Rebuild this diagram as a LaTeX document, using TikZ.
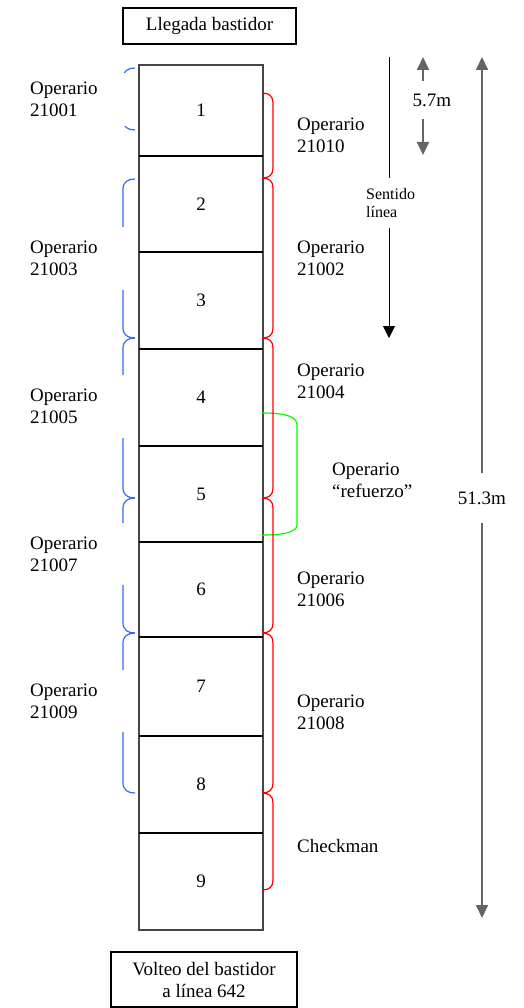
\documentclass[tikz,border=0pt]{standalone}
\usepackage{fontspec}
\setmainfont{Liberation Serif}
\usetikzlibrary{arrows.meta,positioning}
\definecolor{opblue}{RGB}{51,102,255}
\definecolor{opred}{RGB}{255,0,0}
\definecolor{opgreen}{RGB}{0,255,0}
\definecolor{framegray}{RGB}{70,70,70}
\definecolor{dimgray}{RGB}{100,100,100}
% bracket on the left / right side of the line, from y #1 down to y #2
\newcommand{\lbrk}[2]{\draw[lbr] (135,#1) .. controls (128,#1) and (123,#1+3) .. (123,#1+10) -- (123,#2-10) .. controls (123,#2-3) and (128,#2) .. (135,#2);}
\newcommand{\rbrk}[2]{\draw[rbr] (262,#1) .. controls (269,#1) and (273,#1+3) .. (273,#1+10) -- (273,#2-10) .. controls (273,#2-3) and (269,#2) .. (262,#2);}

\begin{document}
\begin{tikzpicture}[x=1pt,y=-1pt,
  txt/.style={font=\fontsize{19}{22}\selectfont, inner sep=0pt, align=left},
  lab/.style={txt, fill=white, text width=98pt, anchor=west},
  num/.style={txt, align=center, minimum width=124pt},
  box/.style={draw, line width=1.2pt, txt, align=center},
  lbr/.style={draw=opblue, line width=1.2pt},
  rbr/.style={draw=opred, line width=1.2pt},
  sep/.style={line width=2.4pt},
  dim/.style={draw=dimgray, line width=1.8pt, -{Triangle[width=12pt,length=13pt]}}]
\useasboundingbox (0,0) rectangle (524,1008);

\node[box, minimum width=173pt, minimum height=36pt] (llegada) at (209.5,26) {Llegada bastidor};

% stations
\foreach \n/\yt/\yb in {1/65/156, 2/156/252, 3/252/349, 4/349/446, 5/446/542, 6/542/637, 7/637/736, 8/736/833, 9/833/930}
  \node[num, minimum height={\yb pt-\yt pt}] (c\n) at (201,{(\yt+\yb)/2}) {\raisebox{-2pt}{\n}};
\draw[framegray, line width=1.8pt] (c1.north west) rectangle (c9.south east);
\foreach \n in {1,...,8}
  \draw[sep] (c\n.south west) -- (c\n.south east);

% refuerzo
\draw[opgreen, line width=1.2pt] (262,413) .. controls (284,413) and (297,416) .. (297,425) -- (297,525) .. controls (297,532) and (284,535) .. (262,535);

\lbrk{68}{130}
\lbrk{179}{338}
\lbrk{338}{498}
\lbrk{498}{633}
\lbrk{633}{793}
\rbrk{93}{178}
\rbrk{178}{338}
\rbrk{338}{498}
\rbrk{498}{633}
\rbrk{633}{793}
\rbrk{793}{890}

\node[lab, minimum height=53pt] (o21001) at (30,99.5) {Operario\\21001};
\node[lab, minimum height=63pt] (o21003) at (30,258.5) {Operario\\21003};
\node[lab, minimum height=63pt] (o21005) at (30,406.5) {Operario\\21005};
\node[lab, minimum height=62pt] (o21007) at (30,554) {Operario\\21007};
\node[lab, minimum height=62pt] (o21009) at (30,701) {Operario\\21009};

\node[txt, anchor=west] (o21010) at (297,135.5) {Operario\\21010};
\node[txt, anchor=west] (o21002) at (297,258) {Operario\\21002};
\node[txt, anchor=west] (o21004) at (297,381) {Operario\\21004};
\node[txt, anchor=west] (oref) at (332,480) {Operario\\“refuerzo”};
\node[txt, anchor=west] (o21006) at (297,589) {Operario\\21006};
\node[txt, anchor=west] (o21008) at (297,712) {Operario\\21008};
\node[txt, anchor=west] (check) at (297,846) {Checkman};

% sentido de la linea y cotas
\coordinate (s0) at (389,57);
\coordinate (s1) at (389,338);
\node[txt, font=\fontsize{16}{18}\selectfont, anchor=west, minimum height=50pt] (sent) at (366,203) {Sentido\\línea};
\draw[line width=1pt] (s0) -- (sent.north -| s0);
\draw[line width=1pt, -{Triangle[width=12pt,length=12pt]}] (sent.south -| s1) -- (s1);

\coordinate (t57) at (423,57);
\coordinate (b57) at (423,155);
\node[txt, minimum height=38pt] (d57) at (432,100) {5.7m};
\draw[dim] (d57.north -| t57) -- (t57);
\draw[dim] (d57.south -| b57) -- (b57);

\coordinate (t513) at (482,57);
\coordinate (b513) at (482,918);
\node[txt, minimum height=50pt] (d513) at (482,498) {51.3m};
\draw[dim] (d513.north -| t513) -- (t513);
\draw[dim] (d513.south -| b513) -- (b513);

\node[box, minimum width=186pt, minimum height=55pt] (volteo) at (204,979.5) {Volteo del bastidor\\a línea 642};
\end{tikzpicture}
\end{document}
